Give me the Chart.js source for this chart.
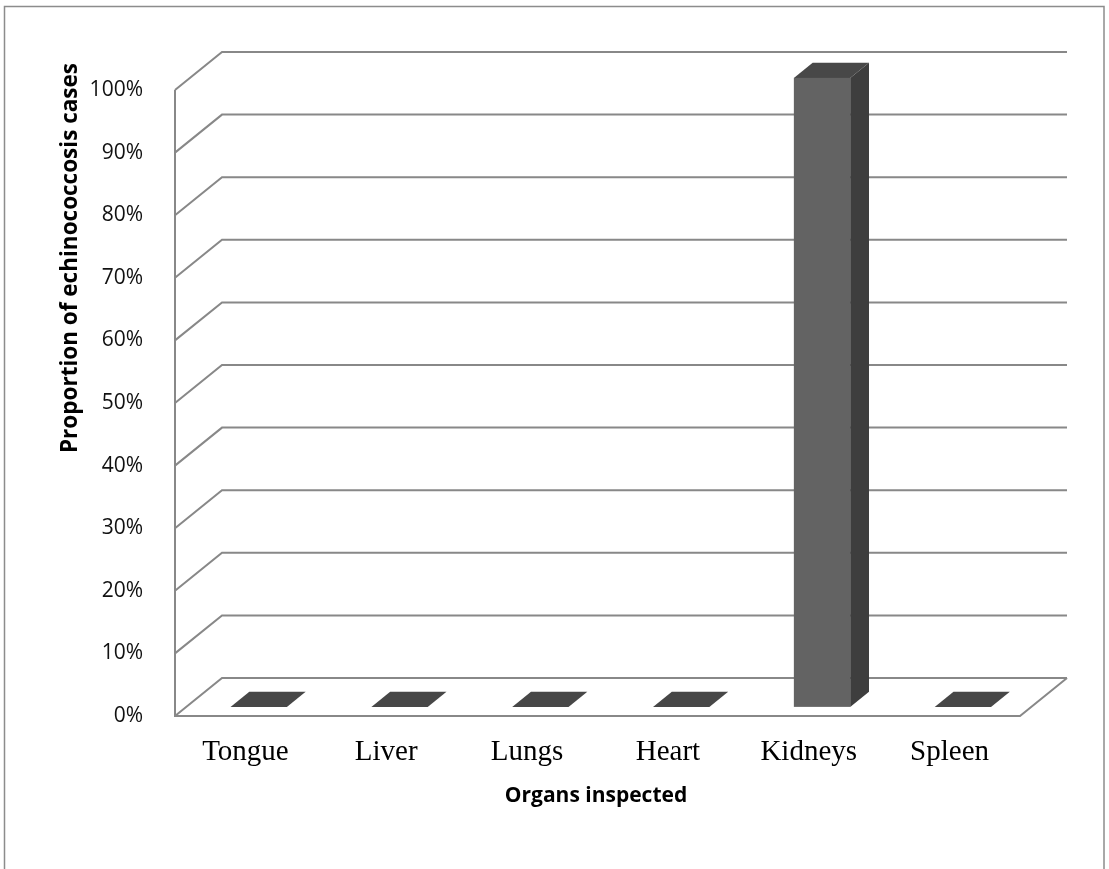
<!DOCTYPE html>
<html>
<head>
<meta charset="utf-8">
<script src="https://cdn.jsdelivr.net/npm/chart.js@4.4.0/dist/chart.umd.min.js"></script>
<style>
    html, body { margin: 0; padding: 0; background: #fff; }
</style>
</head>
<body>
<canvas id="myChart" width="1109" height="869"></canvas>
<script>
const organs = ['Tongue', 'Liver', 'Lungs', 'Heart', 'Kidneys', 'Spleen'];
const proportions = [0, 0, 0, 0, 1, 0];
const xTitle = 'Organs inspected';
const yTitle = 'Proportion of echinococcosis cases';

// oblique depth of the 3d box, and where the bars sit inside it
const DX = 47;
const DY = -38;
const F1 = 0.24;
const F2 = 0.64;

const depth = {
    id: 'depth',
    beforeDraw(chart) {
        const ctx = chart.ctx;
        ctx.save();
        ctx.fillStyle = '#fff';
        ctx.fillRect(0, 0, chart.width, chart.height);
        ctx.strokeStyle = '#8c8c8c';
        ctx.lineWidth = 1.5;
        ctx.strokeRect(4.5, 6.5, 1099.5, 900);
        ctx.restore();
    },
    beforeDatasetsDraw(chart) {
        const { ctx, chartArea: a, scales: { y } } = chart;
        ctx.save();
        ctx.strokeStyle = '#888';
        ctx.lineWidth = 2;
        y.ticks.forEach(t => {
            const py = y.getPixelForValue(t.value);
            ctx.beginPath();
            ctx.moveTo(a.left, py);
            ctx.lineTo(a.left + DX, py + DY);
            ctx.lineTo(a.right + DX, py + DY);
            ctx.stroke();
        });
        // floor and front axis
        const y0 = y.getPixelForValue(0);
        ctx.beginPath();
        ctx.moveTo(a.left, y.getPixelForValue(1));
        ctx.lineTo(a.left, y0);
        ctx.lineTo(a.right, y0);
        ctx.lineTo(a.right + DX, y0 + DY);
        ctx.stroke();
        ctx.restore();
    },
    afterDatasetsDraw(chart) {
        const ctx = chart.ctx;
        const meta = chart.getDatasetMeta(0);
        const dx = (F2 - F1) * DX;
        const dy = (F2 - F1) * DY;
        ctx.save();
        meta.data.forEach(bar => {
            const { x, y, base, width } = bar.getProps(['x', 'y', 'base', 'width'], true);
            const l = x - width / 2 + F1 * DX + 2;
            const r = l + width;
            const top = y + F1 * DY - 3;
            const bot = base + F1 * DY;

            if (bot - top < 4) {
                ctx.fillStyle = '#474747';
                ctx.beginPath();
                ctx.moveTo(l, bot);
                ctx.lineTo(r, bot);
                ctx.lineTo(r + dx, bot + dy);
                ctx.lineTo(l + dx, bot + dy);
                ctx.closePath();
                ctx.fill();
                return;
            }
            // side
            ctx.fillStyle = '#3e3e3e';
            ctx.beginPath();
            ctx.moveTo(r, top);
            ctx.lineTo(r + dx, top + dy);
            ctx.lineTo(r + dx, bot + dy);
            ctx.lineTo(r, bot);
            ctx.closePath();
            ctx.fill();
            // top
            ctx.fillStyle = '#484848';
            ctx.beginPath();
            ctx.moveTo(l, top);
            ctx.lineTo(r, top);
            ctx.lineTo(r + dx, top + dy);
            ctx.lineTo(l + dx, top + dy);
            ctx.closePath();
            ctx.fill();
            // front
            ctx.fillStyle = '#636363';
            ctx.fillRect(l, top, width, bot - top);
        });
        ctx.restore();
    },
    afterDraw(chart) {
        const ctx = chart.ctx;
        ctx.save();
        ctx.fillStyle = '#000';
        ctx.textAlign = 'center';
        ctx.textBaseline = 'middle';
        ctx.font = 'bold 21px "Open Sans"';
        ctx.fillText(xTitle, 596, 796);
        ctx.translate(71, 258);
        ctx.rotate(-Math.PI / 2);
        ctx.font = 'bold 22.5px "Open Sans"';
        ctx.fillText(yTitle, 0, 0);
        ctx.restore();
    }
};

new Chart('myChart', {
    type: 'bar',
    data: {
        labels: organs,
        datasets: [{
            data: proportions,
            backgroundColor: 'rgba(0,0,0,0)',
            borderWidth: 0,
            barPercentage: 0.4,
            categoryPercentage: 1,
        }]
    },
    options: {
        responsive: false,
        animation: false,
        layout: {
            padding: { left: 0, top: 90, right: 89, bottom: 0 }
        },
        scales: {
            x: {
                grid: { display: false },
                border: { display: false },
                ticks: {
                    color: '#000',
                    padding: 11,
                    font: { family: '"Liberation Serif"', size: 29 },
                },
                afterFit: (s) => { s.height = 153; },
            },
            y: {
                min: 0,
                max: 1,
                grid: { display: false },
                border: { display: false },
                ticks: {
                    stepSize: 0.1,
                    color: '#111',
                    padding: 24,
                    font: { family: '"Open Sans"', size: 21 },
                    callback: (v) => Math.round(v * 100) + '%',
                },
                afterFit: (s) => { s.width = 175; },
            }
        },
        plugins: {
            legend: { display: false },
            tooltip: { enabled: false },
        }
    },
    plugins: [depth]
});
</script>
</body>
</html>
